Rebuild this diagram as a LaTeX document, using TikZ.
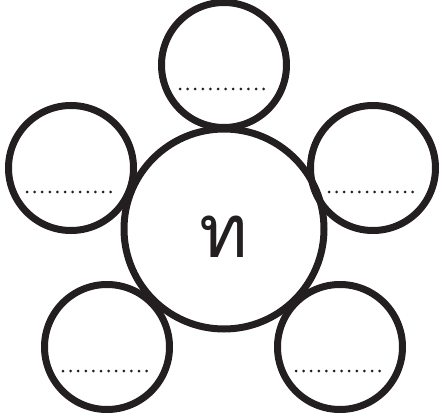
\documentclass[tikz,border=0pt]{standalone}
\usepackage{fontspec}
\newfontfamily\thaifont[Script=Thai]{Loma}
\definecolor{ink}{RGB}{35,31,32}

\begin{document}
\begin{tikzpicture}[
  x=1pt, y=-1pt,
  every node/.style={inner sep=0pt},
  hub/.style={draw=ink, circle, line width=7pt, minimum size=200pt},
  petal/.style={draw=ink, circle, line width=7pt, minimum size=125pt},
  dots/.style={draw=ink, line width=3pt, line cap=round,
               dash pattern=on 0pt off 7.6pt}
]
  \useasboundingbox (0,0) rectangle (442,417);

  \node[hub] (hub) at (224,229) {};
  \node[font=\thaifont\fontsize{74}{74}\selectfont, text=ink]
    (letter) at ([yshift=-8pt]hub.center) {ท};

  \node[petal] (top) at (224,65) {};
  \node[petal] (left) at (71,168) {};
  \node[petal] (right) at (373,168) {};
  \node[petal] (botleft) at (107,347) {};
  \node[petal] (botright) at (340,347) {};

  % blank lines to fill in
  \foreach \p in {top,left,right,botleft,botright}
    \draw[dots] ([shift={(-44,24)}]\p.center) -- ([shift={(46,24)}]\p.center);
\end{tikzpicture}
\end{document}
